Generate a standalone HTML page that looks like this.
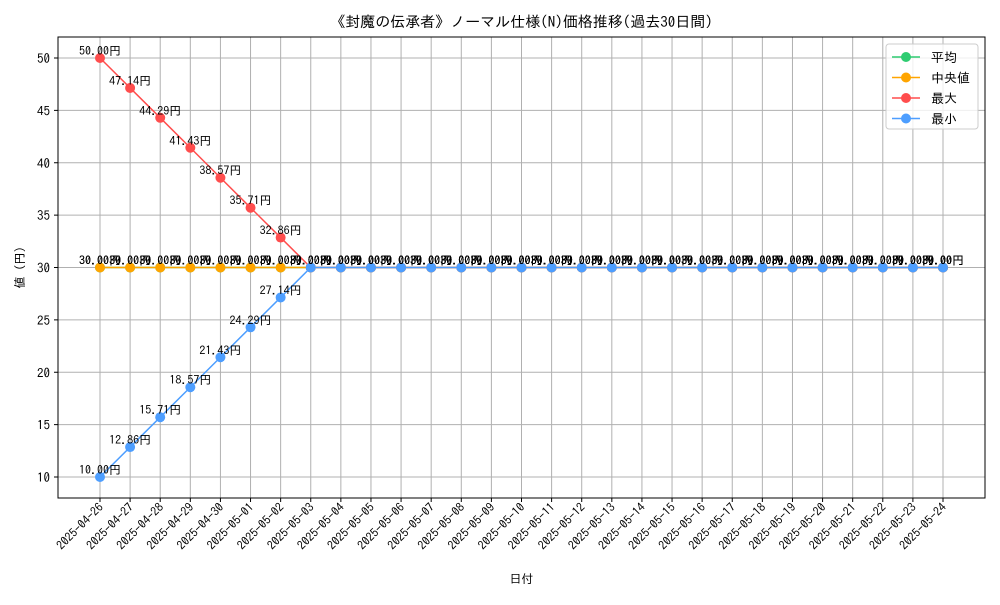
<!DOCTYPE html>
<html><head><meta charset="utf-8"><style>
body{margin:0;background:#fff;}
text{font-family:"IPAGothic","Noto Sans CJK JP",sans-serif;}
</style></head><body>
<svg id="chart" width="1000" height="600" xmlns="http://www.w3.org/2000/svg"></svg>
<script>
const categories=["2025-04-26","2025-04-27","2025-04-28","2025-04-29","2025-04-30","2025-05-01","2025-05-02","2025-05-03","2025-05-04","2025-05-05","2025-05-06","2025-05-07","2025-05-08","2025-05-09","2025-05-10","2025-05-11","2025-05-12","2025-05-13","2025-05-14","2025-05-15","2025-05-16","2025-05-17","2025-05-18","2025-05-19","2025-05-20","2025-05-21","2025-05-22","2025-05-23","2025-05-24"];
const meanVals=[30,30,30,30,30,30,30,30,30,30,30,30,30,30,30,30,30,30,30,30,30,30,30,30,30,30,30,30,30];
const medianVals=[30,30,30,30,30,30,30,30,30,30,30,30,30,30,30,30,30,30,30,30,30,30,30,30,30,30,30,30,30];
const maxVals=[50,47.14,44.29,41.43,38.57,35.71,32.86,30,30,30,30,30,30,30,30,30,30,30,30,30,30,30,30,30,30,30,30,30,30];
const minVals=[10,12.86,15.71,18.57,21.43,24.29,27.14,30,30,30,30,30,30,30,30,30,30,30,30,30,30,30,30,30,30,30,30,30,30];
const yTicks=[10,15,20,25,30,35,40,45,50];
const seriesNames=["平均","中央値","最大","最小"];
const seriesColors=["#2ecc71","#ffa500","#ff4d4d","#4d9eff"];

const svg=document.getElementById('chart');
const NS="http://www.w3.org/2000/svg";
const L=58,R=985,T=37,B=498;
const xs=i=>100+i*(943-100)/(categories.length-1);
const ys=v=>477-(v-10)*(477-58)/40;
function mk(tag,attrs,parent){const e=document.createElementNS(NS,tag);for(const k in attrs)e.setAttribute(k,attrs[k]);(parent||svg).appendChild(e);return e;}

let t=mk('text',{x:(L+R)/2,y:27,'text-anchor':'middle','font-size':15});
t.textContent="《封魔の伝承者》ノーマル仕様(N)価格推移(過去30日間)";



const grid=mk('g',{stroke:'#b0b0b0','stroke-width':1});


categories.forEach((c,i)=>{
  mk('line',{x1:xs(i),x2:xs(i),y1:T,y2:B},grid);
  mk('line',{x1:xs(i),x2:xs(i),y1:B,y2:B+4,stroke:'#000'});
  const lb=mk('text',{x:0,y:0,'font-size':12,'text-anchor':'end',transform:`translate(${xs(i)+4},${B+10}) rotate(-45)`});
  lb.textContent=c;
  
  
});
yTicks.forEach(v=>{
  mk('line',{x1:L,x2:R,y1:ys(v),y2:ys(v)},grid);
  mk('line',{x1:L-4,x2:L,y1:ys(v),y2:ys(v),stroke:'#000'});
  const lb=mk('text',{x:L-8,y:ys(v)+5,'font-size':13,'text-anchor':'end'});
  lb.textContent=v;
  
  
});
const frame=mk('rect',{x:L,y:T,width:R-L,height:B-T,fill:'none',stroke:'#000'});



let xt=mk('text',{x:(L+R)/2,y:583,'text-anchor':'middle','font-size':12});xt.textContent="日付";


let yt=mk('text',{x:0,y:0,'text-anchor':'middle','font-size':12,transform:`translate(24,${(T+B)/2}) rotate(-90)`});yt.textContent="値 (円)";



const allSeries=[meanVals,medianVals,maxVals,minVals];
const snames=['mean','median','max','min'];
allSeries.forEach((vals,s)=>{
  const g=mk('g',{});
  
  
  mk('polyline',{points:vals.map((v,i)=>xs(i)+','+ys(v)).join(' '),fill:'none',stroke:seriesColors[s],'stroke-width':1.5},g);
  vals.forEach((v,i)=>{
    const c=mk('circle',{cx:xs(i),cy:ys(v),r:5,fill:seriesColors[s]},g);
    
    
  });
});
allSeries.forEach((vals,s)=>{
  vals.forEach((v,i)=>{
    const lb=mk('text',{x:xs(i),y:ys(v)-3,'text-anchor':'middle','font-size':12});
    lb.textContent=v.toFixed(2)+"円";
    
    
  });
});

const lg=mk('g',{});


mk('rect',{x:886,y:44,width:92,height:85,rx:3,fill:'#fff','fill-opacity':0.8,stroke:'#ccc'},lg);
seriesNames.forEach((n,s)=>{
  const y=57+s*20.5;
  const e=mk('g',{},lg);
  
  
  mk('line',{x1:892,x2:920,y1:y,y2:y,stroke:seriesColors[s],'stroke-width':1.5},e);
  mk('circle',{cx:906,cy:y,r:5,fill:seriesColors[s]},e);
  const tx=mk('text',{x:931,y:y+5,'font-size':13},e);tx.textContent=(s==1?" ":"")+n;
});
</script>
</body></html>
